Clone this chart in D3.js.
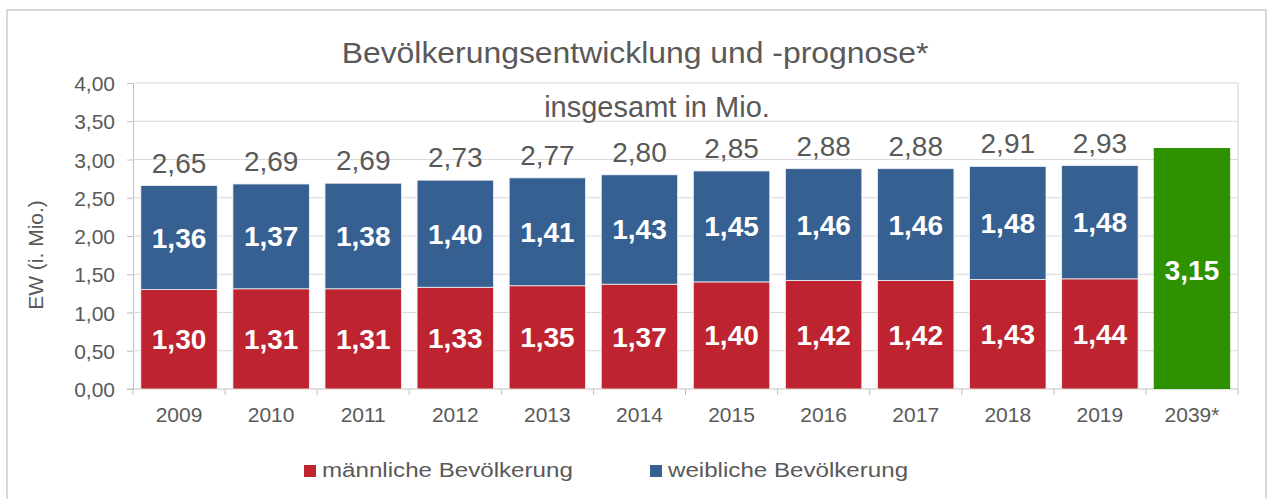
<!DOCTYPE html>
<html>
<head>
<meta charset="utf-8">
<script src="https://cdn.jsdelivr.net/npm/d3@7"></script>
<style>
  body { margin: 0; background: #fff; }
  text { font-family: 'Liberation Sans', Arial, sans-serif; fill: #595959; }
</style>
</head>
<body>
<script>
const years = ['2009', '2010', '2011', '2012', '2013', '2014', '2015', '2016', '2017', '2018', '2019', '2039*']
const male = [1.30, 1.31, 1.31, 1.33, 1.35, 1.37, 1.40, 1.42, 1.42, 1.43, 1.44]
const female = [1.36, 1.37, 1.38, 1.40, 1.41, 1.43, 1.45, 1.46, 1.46, 1.48, 1.48]
const totals = [2.65, 2.69, 2.69, 2.73, 2.77, 2.80, 2.85, 2.88, 2.88, 2.91, 2.93]
const forecast = { year: '2039*', value: 3.15 }
const yTicks = [0, 0.5, 1, 1.5, 2, 2.5, 3, 3.5, 4]
const legendItems = ['männliche Bevölkerung', 'weibliche Bevölkerung']

const colors = { male: '#BE2330', female: '#366092', forecast: '#2E9100' }

const de = d3.formatLocale({ decimal: ',', thousands: '.', grouping: [3], currency: ['', '€'] })
const fmt = de.format('.2f')

const W = 1270, H = 499
const plot = { left: 133, right: 1238, top: 83, bottom: 389 }

const svg = d3.select('body').append('svg')
  .attr('width', W)
  .attr('height', H)

// chart frame
svg.append('rect')
  .attr('x', 7).attr('y', 10)
  .attr('width', 1259).attr('height', 520)
  .attr('fill', 'none')
  .attr('stroke', '#d9d9d9')
  .attr('stroke-width', 2)

const x = d3.scaleBand()
  .domain(years)
  .range([plot.left, plot.right])
  .paddingInner(0.17)
  .paddingOuter(0.085)

const y = d3.scaleLinear()
  .domain([0, 4])
  .range([plot.bottom, plot.top])

// gridlines + y axis
const yAxis = svg.append('g')
  .attr('transform', `translate(${plot.left},0)`)
  .call(d3.axisLeft(y).tickValues(yTicks).tickFormat(fmt).tickSize(6).tickPadding(12))
yAxis.select('.domain').attr('stroke', '#bfbfbf')
yAxis.selectAll('.tick line').attr('stroke', '#bfbfbf')
yAxis.selectAll('.tick text')
  .style('font-size', '21px')
  .attr('fill', '#595959')
  .attr('dy', '0.36em')

svg.append('g')
  .selectAll('line')
  .data(yTicks.filter(d => d > 0))
  .enter()
  .append('line')
  .attr('x1', plot.left)
  .attr('x2', plot.right)
  .attr('y1', d => y(d))
  .attr('y2', d => y(d))
  .attr('stroke', '#d9d9d9')
  .attr('stroke-width', 1.2)

// right border of plot area
svg.append('line')
  .attr('x1', plot.right).attr('x2', plot.right)
  .attr('y1', plot.top).attr('y2', plot.bottom)
  .attr('stroke', '#d9d9d9')
  .attr('stroke-width', 1.2)

// x axis
const xAxis = svg.append('g')
  .attr('transform', `translate(0,${plot.bottom})`)
  .call(d3.axisBottom(x).tickSize(0).tickPadding(18))
xAxis.select('.domain').attr('stroke', '#bfbfbf').attr('d', `M${plot.left - 6},0H${plot.right}`)
xAxis.selectAll('.tick text')
  .style('font-size', '21px')
  .attr('fill', '#595959')
  .attr('dy', '0.71em')

const step = x.step()
const bounds = d3.range(years.length + 1).map(i => plot.left + i * step)
svg.append('g')
  .selectAll('line')
  .data(bounds)
  .enter()
  .append('line')
  .attr('x1', d => d).attr('x2', d => d)
  .attr('y1', plot.bottom).attr('y2', plot.bottom + 6)
  .attr('stroke', '#bfbfbf')

// stacked bars
const rows = male.map((m, i) => ({ year: years[i], male: m, female: female[i], total: totals[i] }))

const bars = svg.append('g')
bars.selectAll('rect.male')
  .data(rows)
  .enter()
  .append('rect')
  .attr('class', 'male')
  .attr('x', d => x(d.year))
  .attr('width', x.bandwidth())
  .attr('y', d => y(d.male))
  .attr('height', d => y(0) - y(d.male))
  .attr('fill', colors.male)
  .attr('stroke', '#f2f2f2')
  .attr('stroke-width', 0.8)

bars.selectAll('rect.female')
  .data(rows)
  .enter()
  .append('rect')
  .attr('class', 'female')
  .attr('x', d => x(d.year))
  .attr('width', x.bandwidth())
  .attr('y', d => y(d.male + d.female))
  .attr('height', d => y(d.male) - y(d.male + d.female))
  .attr('fill', colors.female)
  .attr('stroke', '#f2f2f2')
  .attr('stroke-width', 0.8)

bars.append('rect')
  .attr('x', x(forecast.year))
  .attr('width', x.bandwidth())
  .attr('y', y(forecast.value))
  .attr('height', y(0) - y(forecast.value))
  .attr('fill', colors.forecast)

// labels
const cx = d => x(d.year) + x.bandwidth() / 2

bars.selectAll('text.male')
  .data(rows)
  .enter()
  .append('text')
  .attr('x', cx)
  .attr('y', d => (y(0) + y(d.male)) / 2 + 10)
  .attr('text-anchor', 'middle')
  .style('font-size', '28px')
  .style('font-weight', 'bold')
  .style('fill', '#fff')
  .text(d => fmt(d.male))

bars.selectAll('text.female')
  .data(rows)
  .enter()
  .append('text')
  .attr('x', cx)
  .attr('y', d => (y(d.male) + y(d.male + d.female)) / 2 + 10)
  .attr('text-anchor', 'middle')
  .style('font-size', '28px')
  .style('font-weight', 'bold')
  .style('fill', '#fff')
  .text(d => fmt(d.female))

bars.selectAll('text.total')
  .data(rows)
  .enter()
  .append('text')
  .attr('x', cx)
  .attr('y', d => y(d.male + d.female) - 13)
  .attr('text-anchor', 'middle')
  .style('font-size', '28px')
  .text(d => fmt(d.total))

bars.append('text')
  .attr('x', x(forecast.year) + x.bandwidth() / 2)
  .attr('y', (y(0) + y(forecast.value)) / 2 + 11)
  .attr('text-anchor', 'middle')
  .style('font-size', '28px')
  .style('font-weight', 'bold')
  .style('fill', '#fff')
  .text(fmt(forecast.value))

// titles
svg.append('text')
  .attr('transform', 'translate(635,63) scale(1.1,1)')
  .attr('text-anchor', 'middle')
  .style('font-size', '29px')
  .text('Bevölkerungsentwicklung und -prognose*')

svg.append('text')
  .attr('x', 657)
  .attr('y', 117)
  .attr('text-anchor', 'middle')
  .style('font-size', '29px')
  .text('insgesamt in Mio.')

svg.append('text')
  .attr('transform', 'translate(43,255) rotate(-90)')
  .attr('text-anchor', 'middle')
  .style('font-size', '21px')
  .text('EW (i. Mio.)')

// legend
const legendX = [304, 650]
const legend = svg.append('g')
  .selectAll('g')
  .data(legendItems)
  .enter()
  .append('g')
  .attr('transform', (d, i) => `translate(${legendX[i]},465)`)
legend.append('rect')
  .attr('width', 12)
  .attr('height', 12)
  .attr('fill', (d, i) => i === 0 ? colors.male : colors.female)
legend.append('text')
  .attr('transform', 'translate(18,12) scale(1.15,1)')
  .style('font-size', '21px')
  .text(d => d)
</script>
</body>
</html>
